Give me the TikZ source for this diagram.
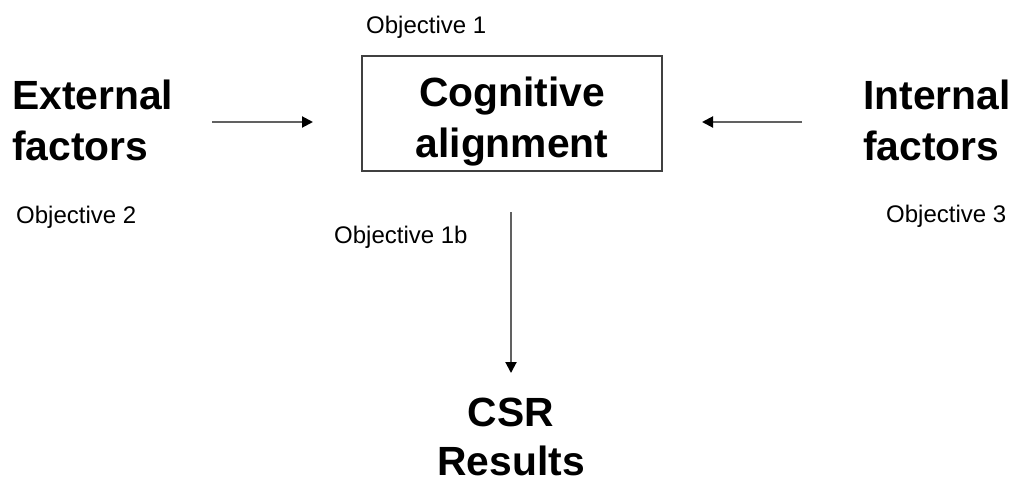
\documentclass[tikz,border=0pt]{standalone}
\usepackage{fontspec}
\setmainfont{Liberation Sans}
\usetikzlibrary{arrows.meta}
\begin{document}
\begin{tikzpicture}[x=1pt,y=-1pt,
  big/.style={font=\fontsize{40.8}{51}\selectfont\bfseries, inner sep=0pt},
  small/.style={font=\fontsize{24}{28}\selectfont, inner sep=0pt},
  flow/.style={draw=black!62, line width=2pt,
    -{Triangle[length=11pt,width=11pt,color=black]}}
]
\useasboundingbox (0,0) rectangle (1016,482);

% central concept
\node[draw=black!75, line width=1.5pt, minimum width=300pt,
      minimum height=115pt, inner sep=0pt] (cog) at (512,113.5) {};
\node[big, align=center, anchor=north] (cogtext) at (512,77)
  {Cognitive\\alignment};

% factors on either side
\node[big, align=left, anchor=north west] (ext) at (12,80)
  {External\\factors};
\node[big, align=left, anchor=north west] (int) at (863,80)
  {Internal\\factors};

% outcome
\node[big, align=center, anchor=south, text depth=0pt,
      font=\fontsize{40.8}{49}\selectfont\bfseries]
  (csr) at (511,476) {CSR\\Results};

% objective labels
\node[small, anchor=base west] (obj1)  at (366,33)  {Objective 1};
\node[small, anchor=base west] (obj2)  at (16,223)  {Objective 2};
\node[small, anchor=base west] (obj3)  at (886,222) {Objective 3};
\node[small, anchor=base west] (obj1b) at (334,243) {Objective 1b};

% arrow end points
\coordinate (extout) at (212,122);
\coordinate (cogwest) at (313,122);
\coordinate (intout) at (802,122);
\coordinate (cogeast) at (702,122);
\coordinate (cogsouth) at (511,212);
\coordinate (csrtop) at (511,373);

\draw[flow] (extout) -- (cogwest);
\draw[flow] (intout) -- (cogeast);
\draw[flow] (cogsouth) -- (csrtop);
\end{tikzpicture}
\end{document}
